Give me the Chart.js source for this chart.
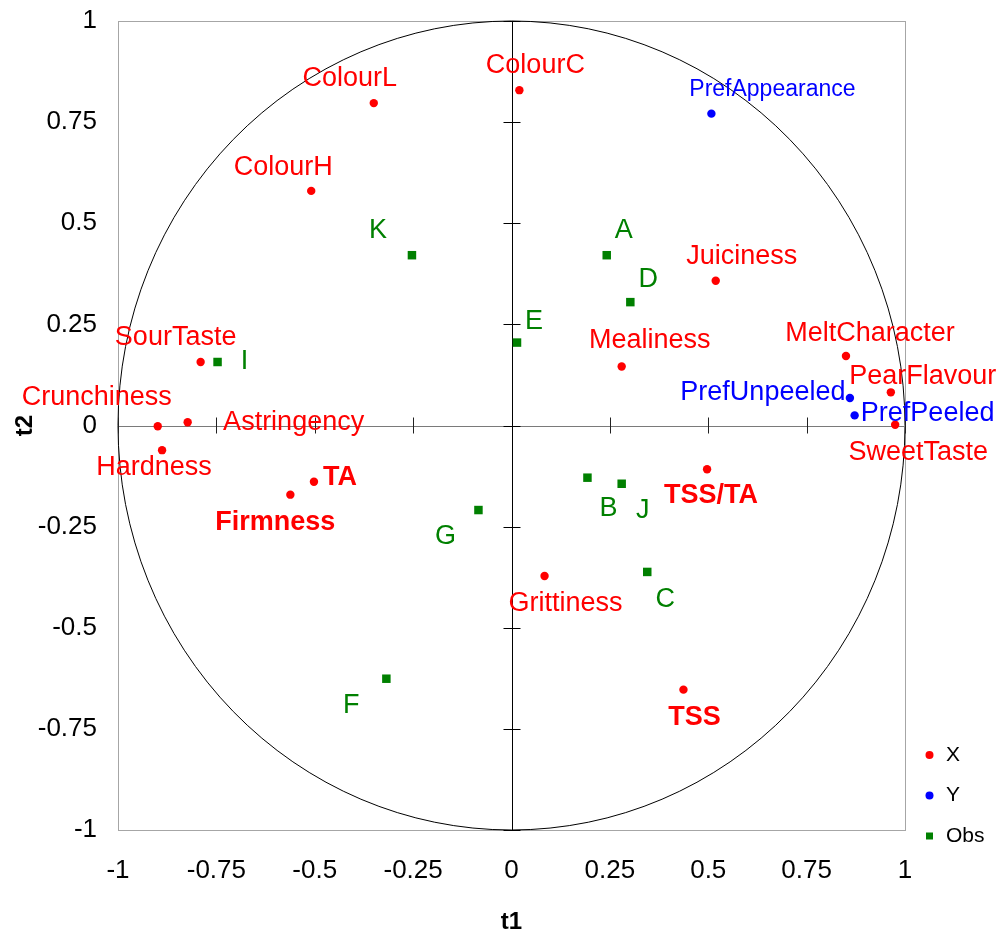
<!DOCTYPE html>
<html>
<head>
<meta charset="utf-8">
<title>PLS correlation circle (t1 / t2)</title>
<script src="https://cdn.jsdelivr.net/npm/chart.js@4.4.1/dist/chart.umd.min.js"></script>
<style>
  html, body { margin: 0; padding: 0; background: #ffffff; }
  #wrap { width: 999px; height: 934px; }
</style>
</head>
<body>
<div id="wrap"><canvas id="chart" width="999" height="934"></canvas></div>
<script>
// X variables (sensory and instrumental attributes)
const xNames = ['ColourL', 'ColourH', 'ColourC', 'Juiciness', 'Mealiness', 'MeltCharacter',
  'PearFlavour', 'SweetTaste', 'SourTaste', 'Crunchiness', 'Astringency', 'Hardness',
  'TA', 'Firmness', 'Grittiness', 'TSS/TA', 'TSS'];
const xT1 = [-0.350, -0.509, 0.020, 0.519, 0.280, 0.850, 0.964, 0.975, -0.790, -0.899,
  -0.823, -0.888, -0.502, -0.562, 0.084, 0.497, 0.437];
const xT2 = [0.797, 0.580, 0.829, 0.358, 0.146, 0.172, 0.082, 0.002, 0.157, -0.002,
  0.008, -0.061, -0.139, -0.171, -0.372, -0.108, -0.653];

// Y variables (consumer preference)
const yNames = ['PrefAppearance', 'PrefUnpeeled', 'PrefPeeled'];
const yT1 = [0.508, 0.860, 0.872];
const yT2 = [0.771, 0.068, 0.025];

// Observations (samples)
const obsNames = ['A', 'B', 'C', 'D', 'E', 'F', 'G', 'I', 'J', 'K'];
const obsT1 = [0.242, 0.193, 0.345, 0.302, 0.014, -0.318, -0.084, -0.747, 0.280, -0.253];
const obsT2 = [0.421, -0.129, -0.362, 0.305, 0.205, -0.626, -0.209, 0.157, -0.144, 0.421];

// Axis ticks
const tickValues = [-1, -0.75, -0.5, -0.25, 0, 0.25, 0.5, 0.75, 1];
const seriesNames = ['X', 'Y', 'Obs'];

// Where each text label sits relative to its marker: [dx, dy] in px to the
// label's horizontal centre and baseline.
const labelPlacement = {
  'ColourL': [-24, -17], 'ColourH': [-28, -16], 'ColourC': [16, -17],
  'Juiciness': [26, -17], 'Mealiness': [28, -18], 'MeltCharacter': [24, -15],
  'PearFlavour': [32, -8], 'SweetTaste': [23, 35], 'SourTaste': [-25, -17],
  'Crunchiness': [-61, -21], 'Astringency': [106, 8], 'Hardness': [-8, 25],
  'TA': [26, 3], 'Firmness': [-15, 35], 'Grittiness': [21, 35],
  'TSS/TA': [4, 34], 'TSS': [11, 35],
  'PrefAppearance': [61, -18], 'PrefUnpeeled': [-87, 2], 'PrefPeeled': [73, 6],
  'A': [17, -17], 'B': [21, 38], 'C': [18, 35], 'D': [18, -15], 'E': [17, -14],
  'F': [-35, 34], 'G': [-33, 34], 'I': [27, 7], 'J': [21, 34], 'K': [-34, -17]
};
const boldLabels = ['TA', 'Firmness', 'TSS/TA', 'TSS'];
const smallLabels = ['PrefAppearance'];

const FONT = '"Liberation Sans", Arial, Helvetica, sans-serif';
const RED = '#ff0000', BLUE = '#0000ff', GREEN = '#008000';

function pts(t1, t2, names) {
  return t1.map((v, i) => ({ x: v, y: t2[i], name: names[i] }));
}

// Frame, unit circle and the centred axes with tick marks
const backdrop = {
  id: 'backdrop',
  beforeDatasetsDraw(chart) {
    const { ctx, chartArea: a, scales: { x, y } } = chart;
    const cx = x.getPixelForValue(0), cy = y.getPixelForValue(0);
    ctx.save();
    // frame
    ctx.strokeStyle = '#a6a6a6';
    ctx.lineWidth = 1;
    ctx.strokeRect(Math.round(a.left) + 0.5, Math.round(a.top) + 0.5,
      Math.round(a.right - a.left), Math.round(a.bottom - a.top));
    // correlation circle (radius 1 in data units)
    ctx.strokeStyle = '#000000';
    ctx.lineWidth = 1;
    ctx.beginPath();
    ctx.ellipse(cx, cy, x.getPixelForValue(1) - cx, cy - y.getPixelForValue(1), 0, 0, Math.PI * 2);
    ctx.stroke();
    // horizontal axis through 0
    ctx.strokeStyle = '#7a7a7a';
    ctx.beginPath();
    ctx.moveTo(a.left, Math.round(cy) + 0.5);
    ctx.lineTo(a.right, Math.round(cy) + 0.5);
    ctx.stroke();
    ctx.strokeStyle = '#222222';
    tickValues.forEach(v => {
      const px = Math.round(x.getPixelForValue(v)) + 0.5;
      ctx.beginPath();
      ctx.moveTo(px, cy - 8);
      ctx.lineTo(px, cy + 8);
      ctx.stroke();
    });
    // vertical axis through 0
    ctx.strokeStyle = '#000000';
    ctx.beginPath();
    ctx.moveTo(Math.round(cx) + 0.5, a.top);
    ctx.lineTo(Math.round(cx) + 0.5, a.bottom);
    ctx.stroke();
    tickValues.forEach(v => {
      const py = Math.round(y.getPixelForValue(v)) + 0.5;
      ctx.beginPath();
      ctx.moveTo(cx - 8, py);
      ctx.lineTo(cx + 9, py);
      ctx.stroke();
    });
    ctx.restore();
  }
};

// Text labels next to each marker
const pointLabels = {
  id: 'pointLabels',
  afterDatasetsDraw(chart) {
    const { ctx } = chart;
    ctx.save();
    ctx.textAlign = 'center';
    ctx.textBaseline = 'alphabetic';
    chart.data.datasets.forEach((ds, di) => {
      const meta = chart.getDatasetMeta(di);
      meta.data.forEach((el, i) => {
        const name = ds.data[i].name;
        const off = labelPlacement[name] || [0, -14];
        const bold = boldLabels.includes(name);
        const size = smallLabels.includes(name) ? 23 : 27;
        ctx.font = (bold ? 'bold ' : '') + size + 'px ' + FONT;
        ctx.fillStyle = ds.backgroundColor;
        ctx.fillText(name, el.x + off[0], el.y + off[1]);
      });
    });
    ctx.restore();
  }
};

// Legend in the lower right corner
const cornerLegend = {
  id: 'cornerLegend',
  afterDraw(chart) {
    const { ctx, chartArea: a } = chart;
    ctx.save();
    ctx.font = '21px ' + FONT;
    ctx.textAlign = 'left';
    ctx.textBaseline = 'middle';
    const mx = a.right + 24.5, tx = a.right + 41;
    chart.data.datasets.forEach((ds, i) => {
      const my = a.bottom - 75 + i * 40.5;
      ctx.fillStyle = ds.backgroundColor;
      ctx.beginPath();
      if (ds.pointStyle === 'rect') {
        ctx.rect(mx - 3.5, my - 3.5, 7, 7);
      } else {
        ctx.arc(mx, my, 4, 0, Math.PI * 2);
      }
      ctx.fill();
      ctx.fillStyle = '#000000';
      ctx.fillText(ds.label, tx, my);
    });
    ctx.restore();
  }
};

new Chart(document.getElementById('chart'), {
  type: 'scatter',
  data: {
    datasets: [
      { label: seriesNames[0], data: pts(xT1, xT2, xNames), backgroundColor: RED,
        pointStyle: 'circle', pointRadius: 4.2, pointBorderWidth: 0 },
      { label: seriesNames[1], data: pts(yT1, yT2, yNames), backgroundColor: BLUE,
        pointStyle: 'circle', pointRadius: 4.2, pointBorderWidth: 0 },
      { label: seriesNames[2], data: pts(obsT1, obsT2, obsNames), backgroundColor: GREEN,
        pointStyle: 'rect', pointRadius: 6, pointBorderWidth: 0 }
    ]
  },
  options: {
    responsive: false,
    animation: false,
    devicePixelRatio: 1,
    layout: { padding: { left: 0, top: 21, right: 94, bottom: 0 } },
    plugins: { legend: { display: false }, tooltip: { enabled: false } },
    scales: {
      x: {
        type: 'linear', min: -1, max: 1,
        afterBuildTicks(s) { s.ticks = tickValues.map(v => ({ value: v })); },
        afterFit(s) { s.height = 104; s.paddingLeft = 0; s.paddingRight = 0; },
        grid: { display: false, drawTicks: false },
        border: { display: false },
        ticks: { padding: 25, color: '#000', font: { family: FONT, size: 26 },
          callback: v => String(v) },
        title: { display: true, text: 't1', color: '#000',
          font: { family: FONT, size: 24, weight: 'bold', lineHeight: 1 },
          padding: { top: 0, bottom: 0 } }
      },
      y: {
        type: 'linear', min: -1, max: 1,
        afterBuildTicks(s) { s.ticks = tickValues.map(v => ({ value: v })); },
        afterFit(s) { s.width = 118; s.paddingTop = 0; s.paddingBottom = 0; },
        grid: { display: false, drawTicks: false },
        border: { display: false },
        ticks: { padding: 21, color: '#000', font: { family: FONT, size: 26 },
          callback: v => String(v) },
        title: { display: true, text: 't2', color: '#000',
          font: { family: FONT, size: 24, weight: 'bold', lineHeight: 1 },
          padding: { top: 13, bottom: 0 } }
      }
    }
  },
  plugins: [backdrop, pointLabels, cornerLegend]
});
</script>
</body>
</html>
